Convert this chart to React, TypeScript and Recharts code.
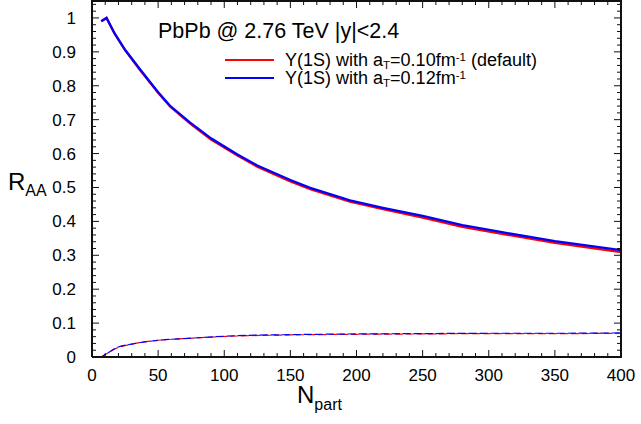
import React from "react";
import { LineChart, Line, XAxis, YAxis } from "recharts";

// ---- data ----
const NPART_SOLID = [7, 11, 17, 25, 36, 50, 59, 74, 90, 110, 125, 150, 165, 195, 220, 250, 280, 310, 350, 400];
const RAA_DEFAULT = [0.99, 1.0, 0.954, 0.905, 0.848, 0.779, 0.739, 0.689, 0.641, 0.594, 0.561, 0.518, 0.495, 0.458, 0.436, 0.411, 0.384, 0.363, 0.337, 0.309];
const RAA_012 = [0.99, 1.0, 0.955, 0.906, 0.85, 0.781, 0.741, 0.692, 0.645, 0.597, 0.565, 0.522, 0.499, 0.462, 0.44, 0.416, 0.389, 0.368, 0.342, 0.315];
const NPART_DASH = [7, 12, 19, 30, 47, 73, 110, 150, 200, 250, 300, 350, 400];
const REGEN_DEFAULT = [0, 0.012, 0.027, 0.038, 0.048, 0.055, 0.062, 0.065, 0.067, 0.068, 0.069, 0.069, 0.07];
const REGEN_012 = [0, 0.012, 0.028, 0.038, 0.048, 0.055, 0.063, 0.066, 0.068, 0.069, 0.07, 0.07, 0.071];

const X_MAJOR = [0, 50, 100, 150, 200, 250, 300, 350, 400];
const Y_MAJOR = [0, 0.1, 0.2, 0.3, 0.4, 0.5, 0.6, 0.7, 0.8, 0.9, 1];
const X_DOMAIN = [0, 400];
const Y_DOMAIN = [0, 1.05];
const X_MINOR_STEP = 10;
const Y_MINOR_STEP = 0.02;
const X_TICKS: number[] = [];
for (let v = X_DOMAIN[0]; v <= X_DOMAIN[1] + 1e-9; v += X_MINOR_STEP) X_TICKS.push(v);
const Y_TICKS: number[] = [];
for (let i = 0; i * Y_MINOR_STEP <= Y_DOMAIN[1] + 1e-9; i++) Y_TICKS.push(Math.round(i * Y_MINOR_STEP * 100) / 100);

const TITLE = "PbPb @ 2.76 TeV |y|<2.4";

const solidRed = NPART_SOLID.map((x, i) => ({ x, y: RAA_DEFAULT[i] }));
const solidBlue = NPART_SOLID.map((x, i) => ({ x, y: RAA_012[i] }));
const dashRed = NPART_DASH.map((x, i) => ({ x, y: REGEN_DEFAULT[i] }));
const dashBlue = NPART_DASH.map((x, i) => ({ x, y: REGEN_012[i] }));

// ---- layout / style ----
const W = 641;
const H = 424;
const LEFT = 92;
const RIGHT = 621;
const TOP = 1;
const BOTTOM = 357;
const FONT = "'Liberation Sans', Arial, Helvetica, sans-serif";
const INK = "#111111";
const X_PER_PX = (X_DOMAIN[1] - X_DOMAIN[0]) / (RIGHT - LEFT);
const Y_PER_PX = (Y_DOMAIN[1] - Y_DOMAIN[0]) / (BOTTOM - TOP);
const MAJ_PX = 7;
const MIN_PX = 4;

const isMajor = (v: number, arr: number[]) => arr.some((m) => Math.abs(m - v) < 1e-6);
const fmt = (v: number) => String(Number(v.toFixed(2)));

const FRAME = [
  { x: X_DOMAIN[0], y: Y_DOMAIN[0] },
  { x: X_DOMAIN[1], y: Y_DOMAIN[0] },
  { x: X_DOMAIN[1], y: Y_DOMAIN[1] },
  { x: X_DOMAIN[0], y: Y_DOMAIN[1] },
  { x: X_DOMAIN[0], y: Y_DOMAIN[0] },
];

const TICK_SEGS: { x: number; y: number | null }[] = [];
X_TICKS.forEach((v) => {
  const len = (isMajor(v, X_MAJOR) ? MAJ_PX : MIN_PX) * Y_PER_PX;
  TICK_SEGS.push({ x: v, y: Y_DOMAIN[0] }, { x: v, y: Y_DOMAIN[0] + len }, { x: v, y: null });
  TICK_SEGS.push({ x: v, y: Y_DOMAIN[1] }, { x: v, y: Y_DOMAIN[1] - len }, { x: v, y: null });
});
Y_TICKS.forEach((v) => {
  const len = (isMajor(v, Y_MAJOR) ? MAJ_PX : MIN_PX) * X_PER_PX;
  TICK_SEGS.push({ x: X_DOMAIN[0], y: v }, { x: X_DOMAIN[0] + len, y: v }, { x: X_DOMAIN[0] + len, y: null });
  TICK_SEGS.push({ x: X_DOMAIN[1], y: v }, { x: X_DOMAIN[1] - len, y: v }, { x: X_DOMAIN[1] - len, y: null });
});

const XLabel = (props: any) => {
  const { x, payload } = props;
  return (
    <text x={x} y={381} textAnchor="middle" fontSize={17} fontFamily={FONT} fill="#000">
      {fmt(payload.value)}
    </text>
  );
};

const YLabel = (props: any) => {
  const { y, payload } = props;
  return (
    <text x={76} y={y} dy={6} textAnchor="end" fontSize={17} fontFamily={FONT} fill="#000">
      {fmt(payload.value)}
    </text>
  );
};

const sub: React.CSSProperties = { fontSize: "0.64em", verticalAlign: "-0.28em", lineHeight: 0 };
const sup: React.CSSProperties = { fontSize: "0.64em", verticalAlign: "0.42em", lineHeight: 0 };
const abs = (left: number, top: number, size: number): React.CSSProperties => ({
  position: "absolute",
  left,
  top,
  fontSize: size,
  lineHeight: 1,
  fontFamily: FONT,
  color: "#000",
  whiteSpace: "nowrap",
});

export default function App() {
  return (
    <div style={{ position: "absolute", left: 0, top: 0 }}>
      <LineChart width={W} height={H} margin={{ top: TOP, right: W - RIGHT, bottom: 0, left: 0 }}>
        <XAxis
          dataKey="x"
          type="number"
          domain={X_DOMAIN}
          ticks={X_MAJOR}
          interval={0}
          height={H - BOTTOM}
          tickLine={false}
          axisLine={{ stroke: INK, strokeWidth: 2 }}
          tick={<XLabel />}
        />
        <YAxis
          type="number"
          domain={Y_DOMAIN}
          ticks={Y_MAJOR}
          interval={0}
          width={LEFT}
          tickLine={false}
          axisLine={{ stroke: INK, strokeWidth: 2 }}
          tick={<YLabel />}
        />
        <Line data={dashRed} dataKey="y" type="monotone" stroke="#f00" strokeWidth={1.2} strokeDasharray="8 3" dot={false} activeDot={false} isAnimationActive={false} />
        <Line data={dashBlue} dataKey="y" type="monotone" stroke="#00f" strokeWidth={1.2} strokeDasharray="8 3" strokeDashoffset={3} dot={false} activeDot={false} isAnimationActive={false} />
        <Line data={solidRed} dataKey="y" type="linear" stroke="#f00" strokeWidth={2.3} dot={false} activeDot={false} isAnimationActive={false} />
        <Line data={solidBlue} dataKey="y" type="linear" stroke="#00f" strokeWidth={2.3} dot={false} activeDot={false} isAnimationActive={false} />
        <Line data={TICK_SEGS} dataKey="y" type="linear" connectNulls={false} stroke={INK} strokeWidth={1} dot={false} activeDot={false} isAnimationActive={false} />
        <Line data={FRAME} dataKey="y" type="linear" stroke={INK} strokeWidth={2} dot={false} activeDot={false} isAnimationActive={false} />
      </LineChart>
      <div style={abs(158, 21, 21.5)}>{TITLE}</div>
      <div style={{ position: "absolute", left: 225, top: 59, width: 49, height: 2, background: "#f00" }} />
      <div style={{ position: "absolute", left: 225, top: 77, width: 49, height: 2, background: "#00f" }} />
      <div style={abs(285, 51, 18)}>
        Υ(1S) with a<span style={sub}>T</span>=0.10fm<span style={sup}>-1</span> (default)
      </div>
      <div style={abs(285, 69, 18)}>
        Υ(1S) with a<span style={sub}>T</span>=0.12fm<span style={sup}>-1</span>
      </div>
      <div style={abs(8, 170, 24)}>
        R<span style={{ fontSize: 16, verticalAlign: -6, lineHeight: 0 }}>AA</span>
      </div>
      <div style={abs(297, 383, 24)}>
        N<span style={{ fontSize: 16, verticalAlign: -7, lineHeight: 0 }}>part</span>
      </div>
    </div>
  );
}
